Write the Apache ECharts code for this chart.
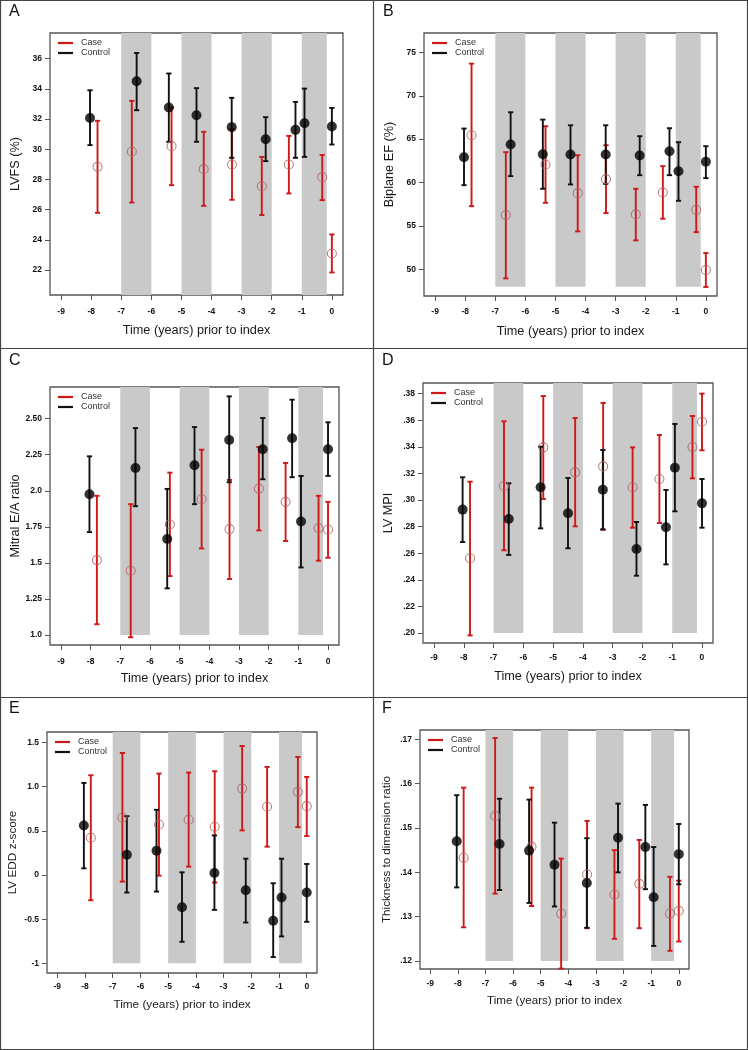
<!DOCTYPE html>
<html>
<head>
<meta charset="utf-8">
<script src="https://cdn.jsdelivr.net/npm/echarts@6/dist/echarts.min.js"></script>
<style>html,body{margin:0;padding:0;background:#fff}#c{width:748px;height:1050px}</style>
</head>
<body>
<div id="c"></div>
<script>
// ---------- shared x data ----------
const xTicks = [-9, -8, -7, -6, -5, -4, -3, -2, -1, 0];
const xTickLabels = ['-9', '-8', '-7', '-6', '-5', '-4', '-3', '-2', '-1', '0'];
const caseX = [-7.79, -6.65, -5.33, -4.26, -3.32, -2.33, -1.43, -0.32, 0];
const controlX = [-8.04, -6.49, -5.42, -4.50, -3.33, -2.20, -1.21, -0.91, 0];
const bandStarts = [-7, -5, -3, -1];
const bandEnds = [-6, -4, -2, -0.17];
const legendNames = ['Case', 'Control'];
const xTitle = 'Time (years) prior to index';

// ---------- A: LVFS ----------
const aCaseMean = [28.83, 29.85, 30.20, 28.68, 28.99, 27.55, 28.99, 28.15, 23.10];
const aCaseLow  = [25.79, 26.47, 27.62, 26.25, 26.65, 25.64, 27.07, 26.63, 21.84];
const aCaseHigh = [31.88, 33.20, 32.76, 31.15, 31.33, 29.49, 30.88, 29.62, 24.36];
const aCtrlMean = [32.07, 34.50, 32.76, 32.25, 31.46, 30.66, 31.28, 31.72, 31.50];
const aCtrlLow  = [30.27, 32.58, 30.49, 30.49, 29.43, 29.21, 29.43, 29.49, 30.31];
const aCtrlHigh = [33.90, 36.37, 35.01, 34.04, 33.40, 32.12, 33.13, 34.01, 32.73];
const aTicks = [22, 24, 26, 28, 30, 32, 34, 36];
const aTickLabels = ['22', '24', '26', '28', '30', '32', '34', '36'];

// ---------- B: Biplane EF ----------
const bCaseMean = [65.45, 56.25, 62.08, 58.78, 60.39, 56.33, 58.86, 56.86, 49.92];
const bCaseLow  = [57.28, 48.96, 57.67, 54.37, 56.48, 53.34, 55.83, 54.29, 47.97];
const bCaseHigh = [73.70, 63.50, 66.49, 63.15, 64.30, 59.28, 61.89, 59.51, 51.88];
const bCtrlMean = [62.92, 64.38, 63.27, 63.23, 63.23, 63.11, 63.61, 61.31, 62.39];
const bCtrlLow  = [59.70, 60.74, 59.28, 59.78, 59.85, 60.85, 60.85, 57.90, 60.51];
const bCtrlHigh = [66.22, 68.10, 67.25, 66.60, 66.60, 65.34, 66.26, 64.65, 64.19];
const bTicks = [50, 55, 60, 65, 70, 75];
const bTickLabels = ['50', '55', '60', '65', '70', '75'];

// ---------- C: Mitral E/A ----------
const cCaseMean = [1.519, 1.445, 1.766, 1.941, 1.734, 2.015, 1.923, 1.741, 1.731];
const cCaseLow  = [1.074, 0.984, 1.408, 1.600, 1.388, 1.725, 1.651, 1.515, 1.535];
const cCaseHigh = [1.965, 1.907, 2.126, 2.285, 2.075, 2.304, 2.193, 1.965, 1.923];
const cCtrlMean = [1.976, 2.158, 1.665, 2.177, 2.352, 2.288, 2.364, 1.787, 2.288];
const cCtrlLow  = [1.713, 1.893, 1.323, 1.907, 2.059, 2.080, 2.094, 1.468, 2.103];
const cCtrlHigh = [2.239, 2.435, 2.013, 2.442, 2.655, 2.505, 2.632, 2.103, 2.475];
const cTicks = [1.0, 1.25, 1.5, 1.75, 2.0, 2.25, 2.5];
const cTickLabels = ['1.0', '1.25', '1.5', '1.75', '2.0', '2.25', '2.50'];

// ---------- D: LV MPI ----------
const dCaseMean = [0.2562, 0.3106, 0.3396, 0.3208, 0.3253, 0.3096, 0.3158, 0.3399, 0.3589];
const dCaseLow  = [0.1982, 0.2622, 0.3008, 0.2802, 0.2776, 0.2792, 0.2827, 0.3163, 0.3374];
const dCaseHigh = [0.3138, 0.3592, 0.3782, 0.3617, 0.3730, 0.3396, 0.3489, 0.3632, 0.3800];
const dCtrlMean = [0.2928, 0.2857, 0.3096, 0.2900, 0.3078, 0.2632, 0.2795, 0.3243, 0.2975];
const dCtrlLow  = [0.2684, 0.2587, 0.2787, 0.2637, 0.2780, 0.2431, 0.2516, 0.2915, 0.2792];
const dCtrlHigh = [0.3171, 0.3126, 0.3401, 0.3166, 0.3376, 0.2835, 0.3076, 0.3572, 0.3158];
const dTicks = [0.20, 0.22, 0.24, 0.26, 0.28, 0.30, 0.32, 0.34, 0.36, 0.38];
const dTickLabels = ['.20', '.22', '.24', '.26', '.28', '.30', '.32', '.34', '.36', '.38'];

// ---------- E: LV EDD z-score ----------
const eCaseMean = [0.421, 0.650, 0.571, 0.624, 0.545, 0.977, 0.771, 0.940, 0.778];
const eCaseLow  = [-0.286, -0.075, -0.008, 0.094, -0.086, 0.504, 0.320, 0.541, 0.440];
const eCaseHigh = [1.128, 1.380, 1.147, 1.158, 1.173, 1.459, 1.222, 1.335, 1.109];
const eCtrlMean = [0.560, 0.229, 0.274, -0.365, 0.023, -0.173, -0.519, -0.256, -0.199];
const eCtrlLow  = [0.075, -0.199, -0.188, -0.756, -0.395, -0.538, -0.929, -0.695, -0.530];
const eCtrlHigh = [1.041, 0.665, 0.737, 0.030, 0.447, 0.184, -0.094, 0.184, 0.124];
const eTicks = [-1, -0.5, 0, 0.5, 1.0, 1.5];
const eTickLabels = ['-1', '-0.5', '0', '0.5', '1.0', '1.5'];

// ---------- F: Thickness to dimension ratio ----------
const fCaseMean = [0.1433, 0.1527, 0.1458, 0.1307, 0.1395, 0.1350, 0.1374, 0.1307, 0.1313];
const fCaseLow  = [0.1276, 0.1352, 0.1324, 0.1183, 0.1274, 0.1250, 0.1274, 0.1223, 0.1244];
const fCaseHigh = [0.1591, 0.1703, 0.1591, 0.1431, 0.1516, 0.1450, 0.1473, 0.1390, 0.1381];
const fCtrlMean = [0.1470, 0.1464, 0.1449, 0.1417, 0.1376, 0.1478, 0.1457, 0.1344, 0.1441];
const fCtrlLow  = [0.1366, 0.1360, 0.1331, 0.1323, 0.1275, 0.1400, 0.1362, 0.1234, 0.1373];
const fCtrlHigh = [0.1574, 0.1566, 0.1564, 0.1512, 0.1477, 0.1555, 0.1552, 0.1457, 0.1509];
const fTicks = [0.12, 0.13, 0.14, 0.15, 0.16, 0.17];
const fTickLabels = ['.12', '.13', '.14', '.15', '.16', '.17'];

// ---------- styling / layout ----------
const FONT = 'Liberation Sans';
const RED = '#d01818';
const CIRCLE = '#b25f5f';
const BLACK = '#111111';
const BAND = '#c9c9c9';
const AXISC = '#555555';

const panels = [
  { label: 'A', lx: 9, ly: 4, grid: {left: 50, top: 33, width: 293, height: 262}, yMin: 20.35, yMax: 37.69, bandBottom: 20.35,
    ticks: aTicks, tickLabels: aTickLabels, yName: 'LVFS (%)', titleSize: 12.7, yGap: 28, xGap: 29, xMargin: 12,
    cm: aCaseMean, cl: aCaseLow, ch: aCaseHigh, km: aCtrlMean, kl: aCtrlLow, kh: aCtrlHigh },
  { label: 'B', lx: 383, ly: 4, grid: {left: 424, top: 33, width: 293, height: 263}, yMin: 46.93, yMax: 77.23, bandBottom: 48,
    ticks: bTicks, tickLabels: bTickLabels, yName: 'Biplane EF (%)', titleSize: 12.7, yGap: 28, xGap: 29, xMargin: 11,
    cm: bCaseMean, cl: bCaseLow, ch: bCaseHigh, km: bCtrlMean, kl: bCtrlLow, kh: bCtrlHigh },
  { label: 'C', lx: 9, ly: 353, grid: {left: 50, top: 387, width: 289, height: 258}, yMin: 0.93, yMax: 2.72, bandBottom: 1.0,
    ticks: cTicks, tickLabels: cTickLabels, yName: 'Mitral E/A ratio', titleSize: 12.7, yGap: 28, xGap: 27, xMargin: 12,
    cm: cCaseMean, cl: cCaseLow, ch: cCaseHigh, km: cCtrlMean, kl: cCtrlLow, kh: cCtrlHigh },
  { label: 'D', lx: 382, ly: 353, grid: {left: 423, top: 383, width: 290, height: 260}, yMin: 0.1925, yMax: 0.388, bandBottom: 0.20,
    ticks: dTicks, tickLabels: dTickLabels, yName: 'LV MPI', titleSize: 12.7, yGap: 28, xGap: 27, xMargin: 10,
    cm: dCaseMean, cl: dCaseLow, ch: dCaseHigh, km: dCtrlMean, kl: dCtrlLow, kh: dCtrlHigh },
  { label: 'E', lx: 9, ly: 701, grid: {left: 47, top: 732, width: 270, height: 241}, yMin: -1.109, yMax: 1.617, bandBottom: -1,
    ticks: eTicks, tickLabels: eTickLabels, yName: 'LV EDD z-score', titleSize: 11.8, yGap: 28, xGap: 26, xMargin: 9,
    cm: eCaseMean, cl: eCaseLow, ch: eCaseHigh, km: eCtrlMean, kl: eCtrlLow, kh: eCtrlHigh },
  { label: 'F', lx: 382, ly: 701, grid: {left: 420, top: 730, width: 269, height: 239}, yMin: 0.1182, yMax: 0.1721, bandBottom: 0.12,
    ticks: fTicks, tickLabels: fTickLabels, yName: 'Thickness to dimension ratio', titleSize: 11.6, yGap: 27, xGap: 26, xMargin: 10,
    cm: fCaseMean, cl: fCaseLow, ch: fCaseHigh, km: fCtrlMean, kl: fCtrlLow, kh: fCtrlHigh }
];

function errRender(color) {
  return function (params, api) {
    const x = api.value(0), lo = api.value(1), hi = api.value(2);
    const a = api.coord([x, lo]), b = api.coord([x, hi]);
    const hw = 2.6;
    const st = {stroke: color, lineWidth: 1.9};
    return {type: 'group', children: [
      {type: 'line', shape: {x1: a[0], y1: a[1], x2: b[0], y2: b[1]}, style: st},
      {type: 'line', shape: {x1: a[0] - hw, y1: a[1], x2: a[0] + hw, y2: a[1]}, style: st},
      {type: 'line', shape: {x1: b[0] - hw, y1: b[1], x2: b[0] + hw, y2: b[1]}, style: st}
    ]};
  };
}
function bandRender(params, api) {
  const p0 = api.coord([api.value(0), api.value(3)]);
  const p1 = api.coord([api.value(1), api.value(2)]);
  return {type: 'rect', shape: {x: p0[0], y: p0[1], width: p1[0] - p0[0], height: p1[1] - p0[1]},
          style: {fill: BAND}};
}

const grids = [], xAxes = [], yAxes = [], series = [], graphics = [];

panels.forEach((p, i) => {
  grids.push(Object.assign({show: true, borderColor: AXISC, borderWidth: 1.3, backgroundColor: 'transparent'}, p.grid));
  xAxes.push({
    type: 'value', gridIndex: i, min: -9.37, max: 0.37, position: 'bottom',
    name: xTitle, nameLocation: 'middle', nameGap: p.xGap,
    nameTextStyle: {fontFamily: FONT, fontSize: p.titleSize, color: '#1a1a1a'},
    axisLine: {show: false, onZero: false}, splitLine: {show: false},
    axisTick: {show: true, length: 5, customValues: xTicks, lineStyle: {color: AXISC, width: 1}},
    axisLabel: {show: true, customValues: xTicks, margin: p.xMargin, fontFamily: FONT, fontWeight: 'bold', fontSize: 8.5, color: '#111',
      formatter: v => { const k = xTicks.findIndex(t => Math.abs(t - v) < 1e-9); return k >= 0 ? xTickLabels[k] : ''; }}
  });
  yAxes.push({
    type: 'value', gridIndex: i, min: p.yMin, max: p.yMax, position: 'left',
    name: p.yName, nameLocation: 'middle', nameGap: p.yGap,
    nameTextStyle: {fontFamily: FONT, fontSize: p.titleSize, color: '#1a1a1a'},
    axisLine: {show: false, onZero: false}, splitLine: {show: false},
    axisTick: {show: true, length: 5, customValues: p.ticks, lineStyle: {color: AXISC, width: 1}},
    axisLabel: {show: true, customValues: p.ticks, margin: 8, fontFamily: FONT, fontWeight: 'bold', fontSize: 8.5, color: '#111',
      formatter: v => { const k = p.ticks.findIndex(t => Math.abs(t - v) < 1e-9); return k >= 0 ? p.tickLabels[k] : ''; }}
  });
  // bands
  series.push({
    type: 'custom', xAxisIndex: i, yAxisIndex: i, silent: true, renderItem: bandRender, clip: true,
    encode: {x: [0, 1], y: [2, 3]},
    data: bandStarts.map((s, k) => [s, bandEnds[k], p.bandBottom, p.yMax])
  });
  // case error bars
  series.push({
    type: 'custom', name: 'Case', xAxisIndex: i, yAxisIndex: i, renderItem: errRender(RED), clip: false,
    itemStyle: {color: RED}, encode: {x: 0, y: [1, 2]},
    data: caseX.map((x, k) => [x, p.cl[k], p.ch[k]])
  });
  series.push({
    type: 'scatter', name: 'Case mean', xAxisIndex: i, yAxisIndex: i, symbol: 'circle', symbolSize: 9,
    itemStyle: {color: 'rgba(0,0,0,0)', borderColor: CIRCLE, borderWidth: 1.1},
    data: caseX.map((x, k) => [x, p.cm[k]])
  });
  // control error bars
  series.push({
    type: 'custom', name: 'Control', xAxisIndex: i, yAxisIndex: i, renderItem: errRender(BLACK), clip: false,
    itemStyle: {color: BLACK}, encode: {x: 0, y: [1, 2]},
    data: controlX.map((x, k) => [x, p.kl[k], p.kh[k]])
  });
  series.push({
    type: 'scatter', name: 'Control mean', xAxisIndex: i, yAxisIndex: i, symbol: 'circle', symbolSize: 10,
    itemStyle: {color: '#000'},
    data: controlX.map((x, k) => [x, p.km[k]])
  });
  // panel label
  graphics.push({type: 'text', left: p.lx, top: p.ly, style: {text: p.label, font: '16px "' + FONT + '"', fill: '#111'}});
  // legend
  const gl = p.grid.left, gt = p.grid.top;
  [RED, BLACK].forEach((c, k) => {
    const y = gt + 10 + k * 10;
    graphics.push({type: 'line', shape: {x1: gl + 8, y1: y, x2: gl + 23, y2: y}, style: {stroke: c, lineWidth: 2.2}});
    graphics.push({type: 'text', x: gl + 31, y: y, style: {text: legendNames[k], font: '9px "' + FONT + '"', fill: '#333', verticalAlign: 'middle'}});
  });
});

// panel frames
graphics.push({type: 'rect', shape: {x: 0.5, y: 0.5, width: 747, height: 1049}, style: {fill: 'none', stroke: '#444', lineWidth: 1.2}});
graphics.push({type: 'line', shape: {x1: 373.5, y1: 0, x2: 373.5, y2: 1050}, style: {stroke: '#444', lineWidth: 1.2}});
graphics.push({type: 'line', shape: {x1: 0, y1: 348.5, x2: 748, y2: 348.5}, style: {stroke: '#444', lineWidth: 1.2}});
graphics.push({type: 'line', shape: {x1: 0, y1: 697.5, x2: 748, y2: 697.5}, style: {stroke: '#444', lineWidth: 1.2}});

const chart = echarts.init(document.getElementById('c'), null, {renderer: 'canvas'});
chart.setOption({
  animation: false,
  backgroundColor: '#fff',
  grid: grids, xAxis: xAxes, yAxis: yAxes, series: series,
  graphic: {elements: graphics}
});
</script>
</body>
</html>
